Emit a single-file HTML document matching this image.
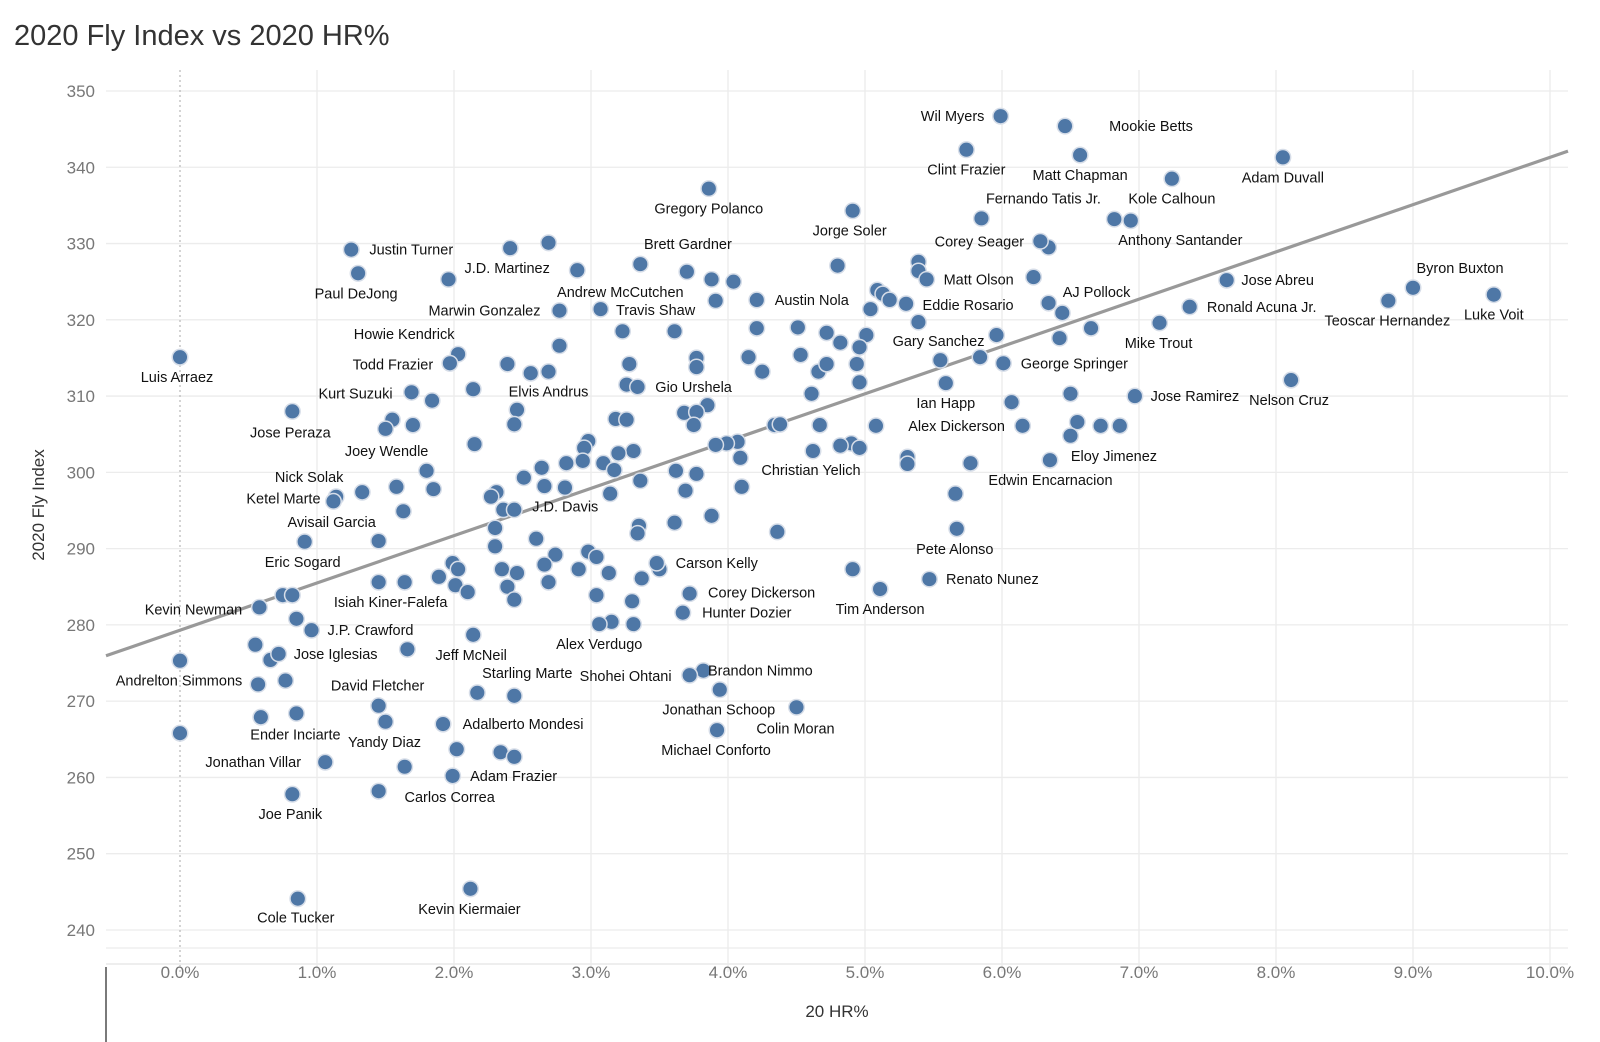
<!DOCTYPE html>
<html><head><meta charset="utf-8"><style>
body{margin:0;background:#fff;width:1600px;height:1042px;overflow:hidden;font-family:"Liberation Sans",sans-serif}
svg{display:block}
</style></head><body>
<svg id="chart" width="1600" height="1042">
<text x="14" y="45" font-size="29" fill="#333">2020 Fly Index vs 2020 HR%</text>
</svg>
<script>
const xTicks=[0,1,2,3,4,5,6,7,8,9,10];
const yTicks=[240,250,260,270,280,290,300,310,320,330,340,350];
const trendIntercept=279.3;
const trendSlope=6.2;
const labNames=["Wil Myers","Mookie Betts","Clint Frazier","Matt Chapman","Adam Duvall","Kole Calhoun","Gregory Polanco","Fernando Tatis Jr.","Jorge Soler","Corey Seager","Anthony Santander","Justin Turner","Paul DeJong","J.D. Martinez","Brett Gardner","Andrew McCutchen","Travis Shaw","Marwin Gonzalez","Matt Olson","Jose Abreu","Byron Buxton","Luke Voit","Teoscar Hernandez","AJ Pollock","Ronald Acuna Jr.","Eddie Rosario","Austin Nola","Mike Trout","Gary Sanchez","George Springer","Howie Kendrick","Todd Frazier","Luis Arraez","Elvis Andrus","Gio Urshela","Kurt Suzuki","Ian Happ","Jose Ramirez","Nelson Cruz","Jose Peraza","Alex Dickerson","Joey Wendle","Eloy Jimenez","Christian Yelich","Nick Solak","Edwin Encarnacion","Ketel Marte","J.D. Davis","Avisail Garcia","Eric Sogard","Pete Alonso","Carson Kelly","Corey Dickerson","Renato Nunez","Isiah Kiner-Falefa","Kevin Newman","Hunter Dozier","Tim Anderson","J.P. Crawford","Alex Verdugo","Jose Iglesias","Jeff McNeil","Andrelton Simmons","Brandon Nimmo","Starling Marte","Shohei Ohtani","David Fletcher","Jonathan Schoop","Colin Moran","Adalberto Mondesi","Ender Inciarte","Yandy Diaz","Michael Conforto","Jonathan Villar","Adam Frazier","Carlos Correa","Joe Panik","Cole Tucker","Kevin Kiermaier"];
const labHR=[5.99,6.46,5.74,6.57,8.05,7.24,3.86,5.85,4.91,6.28,6.82,1.25,1.30,2.41,3.70,3.36,3.07,2.77,5.45,7.64,9.0,9.59,8.82,6.34,7.37,5.30,4.21,7.15,5.96,6.01,2.03,1.97,0,2.69,3.34,1.69,5.59,6.97,8.11,0.82,6.15,1.80,6.35,4.62,1.14,5.77,1.12,2.44,0.91,1.45,5.67,3.48,3.72,5.47,1.45,0.58,3.67,5.11,0.96,3.06,0.72,2.14,0,3.82,2.44,3.72,1.45,3.94,4.50,1.92,0.85,1.50,3.92,1.06,1.99,1.45,0.82,0.86,2.12];
const labFly=[346.7,345.4,342.3,341.6,341.3,338.5,337.2,333.3,334.3,330.3,333.2,329.2,326.1,329.4,326.3,327.3,321.4,321.2,325.3,325.2,324.2,323.3,322.5,322.2,321.7,322.1,322.6,319.6,318.0,314.3,315.5,314.3,315.1,313.2,311.2,310.5,311.7,310.0,312.1,308.0,306.1,300.2,301.6,302.8,296.8,301.2,296.2,295.1,290.9,291.0,292.6,288.1,284.1,286.0,285.6,282.3,281.6,284.7,279.3,280.1,276.2,278.7,275.3,274.0,270.7,273.4,269.4,271.5,269.2,267.0,268.4,267.3,266.2,262.0,260.2,258.2,257.8,244.1,245.4];
const labDx=[-48,86,0,0,0,0,0,62,-3,-61,66,60,-2,-3,1,-20,55,-75,52,51,47,0,-1,48,72,62,55,-1,-58,71,-54,-57,-3,0,56,-56,0,60,-2,-2,-66,-40,64,-2,-27,80,-50,51,27,-76,-2,60,72,63,12,-66,64,0,59,0,57,-2,-1,57,13,-64,-1,-1,-1,80,-1,-1,-1,-72,61,71,-2,-2,-1];
const labDy=[0,0,20,20,20,20,20,-20,20,0,21,0,20,20,-28,28,1,0,0,0,-20,20,20,-11,0,1,0,20,6,0,-20,1,20,20,0,1,20,0,20,21,0,-20,-4,19,-20,17,-3,-3,-20,21,20,0,-1,0,20,2,0,20,0,20,0,20,20,0,-23,1,-20,20,21,0,21,20,20,0,0,6,20,19,20];
const hr=[6.94,6.34,2.69,1.96,2.90,3.88,4.04,5.39,5.39,6.23,6.44,3.91,5.09,5.13,5.18,5.04,5.39,4.80,6.65,4.21,4.51,4.72,5.01,4.82,4.96,3.23,3.61,6.42,2.77,2.39,2.56,3.28,3.77,3.77,4.15,4.25,4.53,4.66,4.72,4.94,4.96,5.55,5.84,2.14,2.46,2.44,3.26,1.84,1.55,1.50,1.70,2.15,3.18,3.26,3.68,3.85,3.77,3.75,4.61,6.07,6.50,6.55,6.72,6.86,6.50,5.08,4.67,4.34,4.38,4.07,3.99,3.91,4.90,4.82,4.96,4.09,4.10,5.31,5.31,5.66,2.98,2.95,3.31,3.20,2.94,2.82,3.09,3.17,2.64,3.62,3.77,3.36,2.51,2.66,2.81,3.14,3.69,2.31,2.27,2.36,3.88,2.30,3.35,3.34,3.61,4.36,1.33,1.58,1.85,1.63,2.30,2.60,2.74,2.66,2.69,2.98,3.04,2.91,3.13,3.50,3.37,1.99,2.03,2.35,2.46,1.89,2.01,2.10,1.64,2.39,2.44,3.04,3.30,4.91,3.15,3.31,0.75,0.82,0.85,0.66,0.55,1.66,0.77,2.17,0.59,0,2.02,2.34,2.44,1.64,0.57];
const fly=[333.0,329.5,330.1,325.3,326.5,325.3,325.0,327.6,326.4,325.6,320.9,322.5,323.9,323.4,322.6,321.4,319.7,327.1,318.9,318.9,319.0,318.3,318.0,317.0,316.4,318.5,318.5,317.6,316.6,314.2,313.0,314.2,315.0,313.8,315.1,313.2,315.4,313.2,314.2,314.2,311.8,314.7,315.1,310.9,308.2,306.3,311.5,309.4,306.9,305.7,306.2,303.7,307.0,306.9,307.8,308.8,307.9,306.2,310.3,309.2,310.3,306.6,306.1,306.1,304.8,306.1,306.2,306.2,306.3,304.0,303.8,303.6,303.8,303.5,303.2,301.9,298.1,302.0,301.1,297.2,304.1,303.2,302.8,302.5,301.5,301.2,301.2,300.3,300.6,300.2,299.8,298.9,299.3,298.2,298.0,297.2,297.6,297.4,296.8,295.1,294.3,292.7,293.0,292.0,293.4,292.2,297.4,298.1,297.8,294.9,290.3,291.3,289.2,287.9,285.6,289.6,288.9,287.3,286.8,287.3,286.1,288.1,287.3,287.3,286.8,286.3,285.2,284.3,285.6,285.0,283.3,283.9,283.1,287.3,280.4,280.1,283.9,283.9,280.8,275.4,277.4,276.8,272.7,271.1,267.9,265.8,263.7,263.3,262.7,261.4,272.2];

const NS="http://www.w3.org/2000/svg";
const svg=document.getElementById('chart');
const L=106,R=1568,T=70,B=964;
const sx=v=>180+v*137;
const sy=v=>91+(350-v)*7.627;
function mk(tag,attrs,parent){const e=document.createElementNS(NS,tag);for(const k in attrs)e.setAttribute(k,attrs[k]);(parent||svg).appendChild(e);return e;}
const grid=mk('g',{});


yTicks.forEach(t=>{
  mk('line',{x1:L,x2:R,y1:sy(t),y2:sy(t),stroke:'#ececec','stroke-width':1.3},grid);
  const tx=mk('text',{x:95,y:sy(t)+6,'text-anchor':'end','font-size':17,fill:'#777'});
  tx.textContent=t;
  
  
});
mk('line',{x1:L,x2:R,y1:948,y2:948,stroke:'#ececec','stroke-width':1.3},grid);
mk('line',{x1:L,x2:R,y1:B,y2:B,stroke:'#e4e4e4','stroke-width':1.3},grid);
xTicks.forEach(t=>{
  if(t!==0) mk('line',{x1:sx(t),x2:sx(t),y1:T,y2:972,stroke:'#ececec','stroke-width':1.3},grid);
  const tx=mk('text',{x:sx(t),y:978,'text-anchor':'middle','font-size':17,fill:'#777'});
  tx.textContent=t.toFixed(1)+'%';
  
  
});
const zl=mk('line',{x1:sx(0),x2:sx(0),y1:T,y2:972,stroke:'#aaa','stroke-width':1,'stroke-dasharray':'2,3'});


const ax=mk('line',{x1:L,x2:L,y1:967,y2:1042,stroke:'#333','stroke-width':1.3});


const xt=mk('text',{x:837,y:1017,'text-anchor':'middle','font-size':17,fill:'#333'});
xt.textContent='20 HR%';


const yt=mk('text',{x:44,y:505,'text-anchor':'middle','font-size':17,fill:'#333',transform:'rotate(-90 44 505)'});
yt.textContent='2020 Fly Index';


const x0=(L-180)/137,x1=(R-180)/137;
const tl=mk('line',{x1:L,x2:R,y1:sy(trendIntercept+trendSlope*x0),y2:sy(trendIntercept+trendSlope*x1),stroke:'#999','stroke-width':3.2});


function dot(x,y){
  const c=mk('circle',{cx:sx(x),cy:sy(y),r:7.8,fill:'#4e77a6',stroke:'#d6dde8','stroke-width':1.5});
  
  
}
hr.forEach((x,i)=>dot(x,fly[i]));
labHR.forEach((x,i)=>{
  dot(x,labFly[i]);
  const t=mk('text',{x:sx(x)+labDx[i],y:sy(labFly[i])+labDy[i]+5,'text-anchor':'middle','font-size':14.5,fill:'#111'});
  t.textContent=labNames[i];
  
  
});
</script>
</body></html>
